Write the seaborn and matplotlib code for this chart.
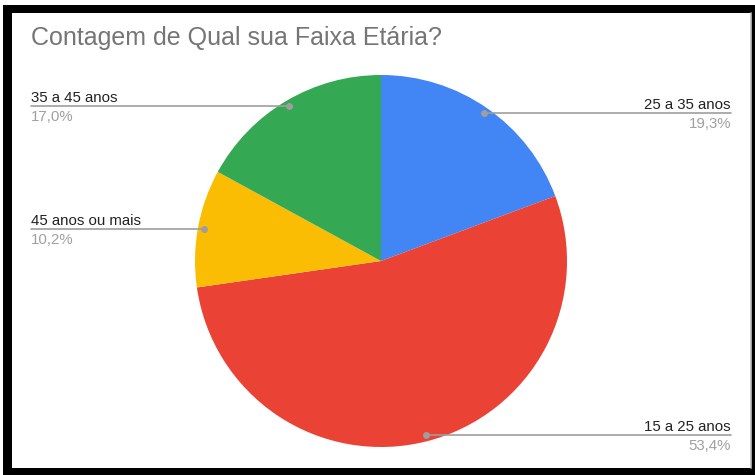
import numpy as np
import matplotlib
matplotlib.use("Agg")
import matplotlib.pyplot as plt
from matplotlib.patches import Rectangle
import seaborn as sns

# dados (88 respostas)
faixas = ["25 a 35 anos", "15 a 25 anos", "45 anos ou mais", "35 a 45 anos"]
contagens = [17, 47, 9, 15]
cores = ["#4285F4", "#EA4335", "#FBBC04", "#34A853"]
titulo = "Contagem de Qual sua Faixa Etária?"

sns.set_style("white")
plt.rcParams["font.family"] = ["Liberation Sans", "DejaVu Sans"]

W, H = 755, 475
fig = plt.figure(figsize=(W / 100, H / 100), dpi=100)
ax = fig.add_axes([0, 0, 1, 1])

# moldura preta
ax.add_patch(Rectangle((3, 0), W - 3, H - 5, facecolor="black", edgecolor="none", zorder=0))
ax.add_patch(Rectangle((12, 7), 739, 455, facecolor="white", edgecolor="none", zorder=0.5))
ax.plot([751, 751], [7, 462], color="#bdbdbd", lw=1.2, zorder=0.6)

cx, cy, r = 381, 214, 186
wedges, _ = ax.pie(contagens, colors=sns.color_palette(cores), startangle=90,
                   counterclock=False, center=(cx, cy), radius=r,
                   wedgeprops=dict(linewidth=0))

total = sum(contagens)
for w, nome, n in zip(wedges, faixas, contagens):
    ang = np.deg2rad((w.theta1 + w.theta2) / 2)
    px = cx + 0.968 * r * np.cos(ang)
    py = cy + 0.968 * r * np.sin(ang)
    if np.cos(ang) >= 0:
        tx, ha = 731, "right"
    else:
        tx, ha = 31, "left"
    ax.plot([px, tx], [py, py], color="#9e9e9e", lw=1.2, zorder=3)
    ax.plot(px, py, "o", color="#9e9e9e", ms=4, zorder=4)
    pct = f"{100 * n / total:.1f}%".replace(".", ",")
    ax.text(tx, py + 4, nome, ha=ha, va="baseline", fontsize=10.8, color="#222222", zorder=5)
    ax.text(tx, py - 4, pct, ha=ha, va="top", fontsize=10.8, color="#a0a0a0", zorder=5)

ax.text(31, H - 45, titulo, ha="left", va="baseline", fontsize=18, color="#757575")

ax.set_xlim(0, W)
ax.set_ylim(0, H)
ax.set_aspect("equal")
ax.axis("off")

fig.savefig("out.png", dpi=100)
